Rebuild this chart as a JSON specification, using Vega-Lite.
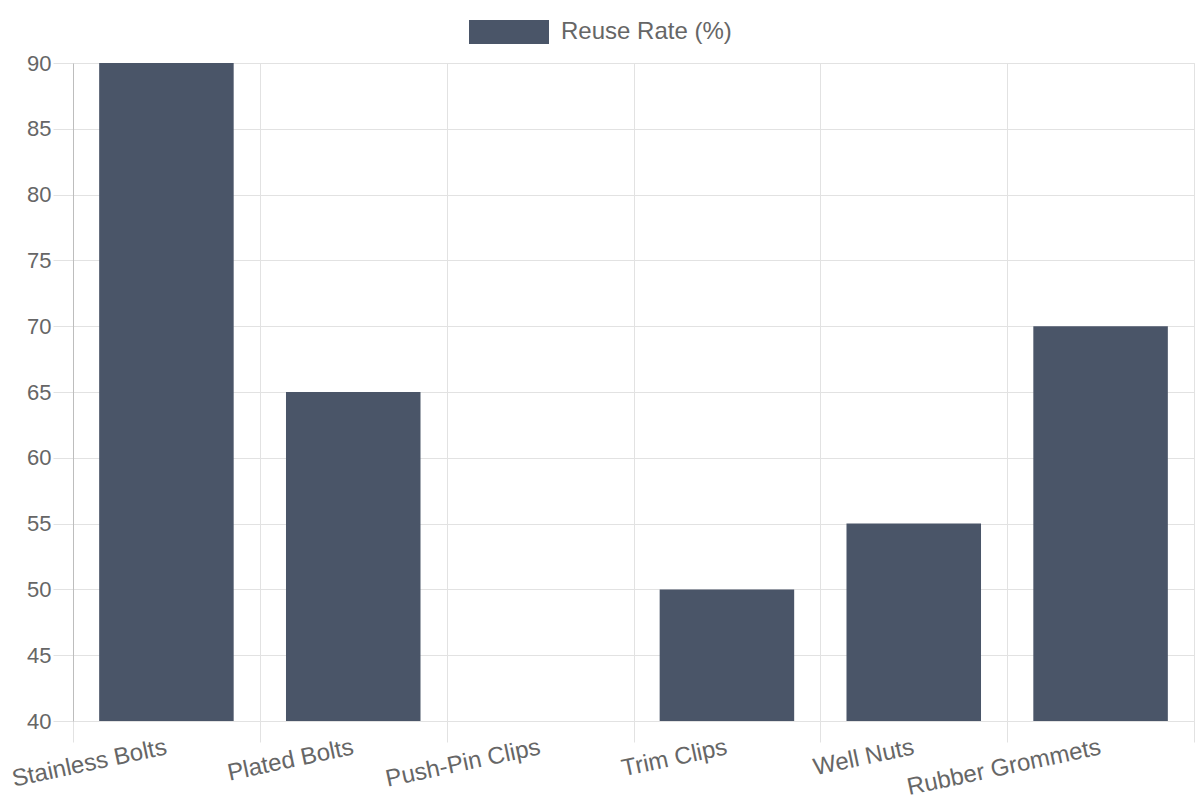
{
  "$schema": "https://vega.github.io/schema/vega-lite/v6.json",
  "autosize": "none",
  "width": 1121,
  "height": 658,
  "padding": {"left": 73, "top": 63, "right": 6, "bottom": 79},
  "background": "white",
  "config": {
    "font": "Liberation Sans",
    "view": {"stroke": "#e0e0e0"},
    "axis": {
      "labelFont": "Liberation Sans",
      "labelColor": "#666666",
      "labelFontSize": 22,
      "labelLimit": 0,
      "gridColor": "#e2e2e2",
      "domainColor": "#c4c4c4",
      "tickColor": "#e2e2e2",
      "title": null
    }
  },
  "data": {
    "values": [
      {"part": "Stainless Bolts", "rate": 90, "series": "Reuse Rate (%)"},
      {"part": "Plated Bolts", "rate": 65, "series": "Reuse Rate (%)"},
      {"part": "Push-Pin Clips", "rate": 40, "series": "Reuse Rate (%)"},
      {"part": "Trim Clips", "rate": 50, "series": "Reuse Rate (%)"},
      {"part": "Well Nuts", "rate": 55, "series": "Reuse Rate (%)"},
      {"part": "Rubber Grommets", "rate": 70, "series": "Reuse Rate (%)"}
    ]
  },
  "mark": {"type": "bar", "width": {"band": 0.72}, "clip": true},
  "encoding": {
    "x": {
      "field": "part",
      "type": "nominal",
      "sort": null,
      "scale": {"paddingInner": 0, "paddingOuter": 0},
      "axis": {
        "labelAngle": -12,
        "labelAlign": "right",
        "labelBaseline": "top",
        "labelPadding": -7,
        "labelFontSize": 24,
        "labelOffset": -3,
        "grid": true,
        "bandPosition": 0,
        "tickBand": "extent",
        "tickSize": 21,
        "domain": false
      }
    },
    "y": {
      "field": "rate",
      "type": "quantitative",
      "scale": {"domain": [40, 90], "nice": false, "zero": false},
      "axis": {
        "values": [40, 45, 50, 55, 60, 65, 70, 75, 80, 85, 90],
        "tickSize": 20,
        "labelPadding": 2,
        "domainColor": "#bdbdbd"
      }
    },
    "color": {
      "field": "series",
      "type": "nominal",
      "scale": {"range": ["#4a5568"]},
      "legend": {
        "title": null,
        "orient": "none",
        "legendX": 396,
        "legendY": -71,
        "symbolType": "M-1,-0.3H1V0.3H-1Z",
        "symbolSize": 6400,
        "symbolOpacity": 1,
        "symbolStrokeWidth": 0,
        "labelFontSize": 24,
        "labelLimit": 0,
        "labelColor": "#666666",
        "labelFont": "Liberation Sans",
        "labelOffset": 12
      }
    }
  }
}
